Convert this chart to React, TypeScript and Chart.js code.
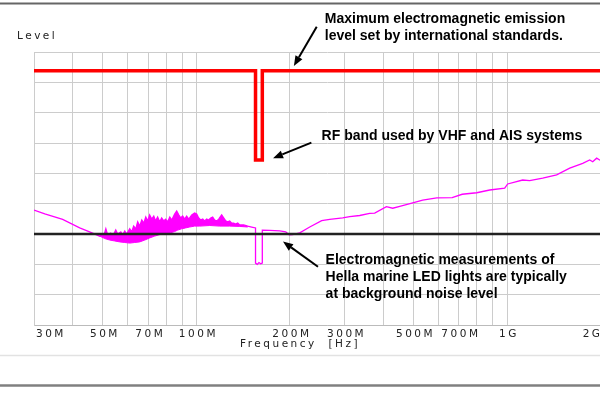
import { useEffect, useRef } from 'react';
import { Chart, registerables } from 'chart.js';

Chart.register(...registerables);

// X axis (MHz, logarithmic)
const xMin = 30;
const xMax = 2311;
const xTicks = [30, 40, 50, 60, 70, 80, 90, 100, 200, 300, 400, 500, 600, 700, 800, 900, 1000, 2000];
const xTickLabels = ['30M', '', '50M', '', '70M', '', '', '100M', '200M', '300M', '', '500M', '', '700M', '', '', '1G', '2G'];

// Y axis (level, arbitrary units, 9 grid divisions)
const yMin = 0;
const yMax = 90;
const yStep = 10;

// Emission limit (red)
const limitFreq = [30, 155, 155, 163, 163, 2311];
const limitLevel = [83.8, 83.8, 54.4, 54.4, 83.8, 83.8];

// Background noise reference (black)
const baseFreq = [30, 2311];
const baseLevel = [30, 30];

// Measured trace (magenta) – upper envelope in the noisy band
const traceFreq = [
  30, 32.5, 37.1, 42.1, 45.3, 48.8, 49.6, 50.3, 51.1, 51.8, 53.0, 53.8, 55.0, 55.8, 57.1, 57.9, 58.8, 59.6,
  61.0, 61.9, 62.8, 63.8, 64.7, 65.7, 66.7, 67.7, 68.7, 69.7, 70.7, 71.8, 72.9, 73.9, 75.0, 76.2, 77.3, 78.5,
  79.6, 80.8, 82.1, 83.3, 85.1, 86.4, 87.7, 89.0, 90.3, 91.7, 93.0, 94.5, 96.6, 98.7, 100.2, 101.7, 103.2,
  104.8, 106.3, 107.9, 109.5, 111.2, 112.8, 114.5, 116.2, 118.0, 119.8, 120.6, 122.4, 124.3, 126.1, 128.0,
  129.9, 131.8, 133.8, 135.8, 137.9, 142.0, 146.3, 150.7, 155, 155, 157, 159, 161, 163, 163, 172.2, 185.4,
  193.9, 199, 204.2, 215.1, 231.7, 253.1, 268.7, 295.8, 311.6, 335.6, 361.3, 375, 409, 428.6, 451.6, 497.2,
  535.2, 594.1, 666.0, 717.3, 798.9, 879.9, 983.1, 1005, 1123, 1183, 1303, 1445, 1592, 1753, 1846, 1888,
  1944, 1988, 2063, 2311,
];
const traceLevel = [
  37.9, 36.6, 34.8, 32.0, 30.7, 29.3, 30.0, 29.3, 31.7, 29.7, 30.3, 29.3, 31.3, 30.0, 30.7, 29.7, 31.0, 30.0,
  31.7, 30.7, 32.6, 31.7, 34.0, 32.6, 34.6, 33.6, 35.6, 34.3, 36.3, 34.9, 35.9, 34.3, 35.6, 34.0, 35.3, 34.3,
  34.9, 34.0, 35.6, 34.6, 36.6, 37.6, 36.3, 35.3, 35.9, 34.9, 35.9, 34.9, 36.3, 36.9, 36.6, 35.3, 34.6,
  34.9, 34.3, 34.9, 34.6, 35.3, 35.6, 34.6, 34.3, 34.9, 35.9, 36.3, 35.3, 34.3, 34.0, 34.3,
  33.6, 33.6, 33.3, 33.6, 33.0, 33.0, 32.6, 32.3, 32.0, 20.4, 20.0, 20.6, 20.2, 20.4, 31.3, 31.2, 31.0,
  30.7, 29.7, 29.8, 30.4, 32.3, 34.4, 34.8, 35.3, 35.7, 36.1, 36.8, 36.9, 39.0, 38.5, 39.1, 40.3,
  41.2, 41.9, 42.0, 43.1, 43.6, 44.5, 45.1, 46.5, 47.8, 47.6, 48.4, 49.5, 51.7, 53.3, 54.4, 53.8,
  55.0, 54.4, 53.7, 54.1,
];

// Lower envelope of the noisy band (filled up to the trace)
const lowerFreq = [
  48.8, 50.7, 52.6, 54.6, 56.6, 58.8, 61.0, 63.3, 65.7, 68.2, 70.7, 73.4, 76.2, 79.1, 82.1, 85.1, 87.1, 89.6,
  92.3, 95.1, 98.7, 102.5, 110.4, 118.9, 128.0, 137.9, 146.3,
];
const lowerLevel = [
  29.3, 28.5, 28.0, 27.7, 27.4, 27.2, 27.0, 27.2, 27.4, 28.0, 28.7, 29.3, 29.8, 30.0, 30.3, 30.8, 31.3, 31.7,
  32.0, 32.3, 32.6, 32.6, 32.8, 32.6, 32.6, 32.5, 32.3,
];

// Annotations: anchor in data units (MHz, level)
const notes = [
  { freq: 259, level: 100.9, lines: ['Maximum electromagnetic emission', 'level set by international standards.'] },
  { freq: 253, level: 62.3, lines: ['RF band used by VHF and AIS systems'] },
  {
    freq: 260.6,
    level: 21.4,
    lines: ['Electromagnetic measurements of', 'Hella marine LED lights are typically', 'at background noise level'],
  },
];
const arrows = [
  { fromFreq: 244, fromLevel: 98.3, toFreq: 206, toLevel: 85.4 },
  { fromFreq: 234.5, fromLevel: 60.1, toFreq: 176.5, toLevel: 55.0 },
  { fromFreq: 246.3, fromLevel: 19.2, toFreq: 190.0, toLevel: 27.5 },
];

const yTitle = 'Level';
const xTitle = 'Frequency  [Hz]';

const zip = (xs: number[], ys: number[]) => xs.map((x, i) => ({ x, y: ys[i] }));

function drawArrow(ctx: CanvasRenderingContext2D, x1: number, y1: number, x2: number, y2: number) {
  const ang = Math.atan2(y2 - y1, x2 - x1);
  const hl = 10;
  const hw = 4;
  const bx = x2 - hl * Math.cos(ang);
  const by = y2 - hl * Math.sin(ang);
  ctx.beginPath();
  ctx.moveTo(x1, y1);
  ctx.lineTo(bx, by);
  ctx.stroke();
  ctx.beginPath();
  ctx.moveTo(x2, y2);
  ctx.lineTo(bx + hw * Math.sin(ang), by - hw * Math.cos(ang));
  ctx.lineTo(bx - hw * Math.sin(ang), by + hw * Math.cos(ang));
  ctx.closePath();
  ctx.fill();
}

const SPACING = '2.5px';

const decorPlugin = {
  id: 'decor',
  beforeDraw(chart: any) {
    (chart.ctx as any).letterSpacing = SPACING;
  },
  afterDraw(chart: any) {
    const ctx = chart.ctx as CanvasRenderingContext2D;
    const xs = chart.scales.x;
    const ys = chart.scales.y;
    ctx.save();
    // frame lines
    ctx.strokeStyle = '#666';
    ctx.lineWidth = 2;
    ctx.beginPath();
    ctx.moveTo(0, 3.5);
    ctx.lineTo(640, 3.5);
    ctx.stroke();
    ctx.strokeStyle = '#e2e2e2';
    ctx.lineWidth = 1.5;
    ctx.beginPath();
    ctx.moveTo(0, 355.5);
    ctx.lineTo(640, 355.5);
    ctx.stroke();
    ctx.strokeStyle = '#808080';
    ctx.lineWidth = 2.5;
    ctx.beginPath();
    ctx.moveTo(0, 385.5);
    ctx.lineTo(640, 385.5);
    ctx.stroke();

    // axis titles
    (ctx as any).letterSpacing = SPACING;
    ctx.fillStyle = '#222';
    ctx.font = '10.5px "DejaVu Sans", sans-serif';
    ctx.textAlign = 'left';
    ctx.textBaseline = 'middle';
    ctx.fillText(yTitle, 17, 36);
    ctx.fillText(xTitle, 240, 344);

    // annotations
    (ctx as any).letterSpacing = '0px';
    ctx.fillStyle = '#000';
    ctx.font = 'bold 14px "Liberation Sans", Arial, sans-serif';
    notes.forEach((n) => {
      const px = xs.getPixelForValue(n.freq);
      const py = ys.getPixelForValue(n.level);
      n.lines.forEach((l, i) => ctx.fillText(l, px, py + i * 17));
    });
    ctx.strokeStyle = '#000';
    ctx.lineWidth = 2;
    arrows.forEach((a) => {
      drawArrow(
        ctx,
        xs.getPixelForValue(a.fromFreq),
        ys.getPixelForValue(a.fromLevel),
        xs.getPixelForValue(a.toFreq),
        ys.getPixelForValue(a.toLevel)
      );
    });
    ctx.restore();
    (ctx as any).letterSpacing = '0px';
  },
};

export default function App() {
  const ref = useRef<HTMLCanvasElement | null>(null);
  useEffect(() => {
    if (!ref.current) return;
    const chart = new Chart(ref.current, {
      type: 'line',
      data: {
        datasets: [
          {
            data: zip(baseFreq, baseLevel),
            borderColor: '#222',
            borderWidth: 2.5,
            pointRadius: 0,
            fill: false,
          },
          {
            data: zip(limitFreq, limitLevel),
            borderColor: '#ff0000',
            borderWidth: 3.5,
            borderJoinStyle: 'miter',
            pointRadius: 0,
            fill: false,
          },
          {
            data: zip(traceFreq, traceLevel),
            borderColor: '#ff00ff',
            borderWidth: 1.3,
            pointRadius: 0,
            fill: false,
          },
          {
            data: zip(lowerFreq, lowerLevel),
            borderColor: '#ff00ff',
            borderWidth: 1,
            backgroundColor: '#ff00ff',
            pointRadius: 0,
            fill: '-1',
          },
        ],
      } as any,
      options: {
        responsive: false,
        animation: false,
        events: [],
        layout: { padding: { top: 52, right: 20, bottom: 0, left: 0 } },
        plugins: {
          legend: { display: false },
          tooltip: { enabled: false },
        },
        scales: {
          x: {
            type: 'logarithmic',
            min: xMin,
            max: xMax,
            afterBuildTicks: (s: any) => {
              s.ticks = xTicks.map((v) => ({ value: v }));
            },
            afterFit: (s: any) => {
              s.height = 75;
            },
            ticks: {
              autoSkip: false,
              maxRotation: 0,
              minRotation: 0,
              align: 'inner',
              labelOffset: 2,
              padding: 3,
              color: '#222',
              font: { family: '"DejaVu Sans", sans-serif', size: 10.5 },
              callback: (v: any) => {
                const i = xTicks.indexOf(Number(v));
                return i >= 0 ? xTickLabels[i] : '';
              },
            },
            grid: { color: '#cccccc', lineWidth: 1, drawTicks: false },
            border: { color: '#bbbbbb' },
          },
          y: {
            type: 'linear',
            min: yMin,
            max: yMax,
            afterFit: (s: any) => {
              s.width = 34;
            },
            ticks: { stepSize: yStep, display: false },
            grid: { color: '#cccccc', lineWidth: 1, drawTicks: false },
            border: { color: '#cccccc' },
          },
        },
      } as any,
      plugins: [decorPlugin],
    });
    return () => chart.destroy();
  }, []);
  return (
    <div
      style={{
        position: 'absolute',
        left: 0,
        top: 0,
        width: 600,
        height: 400,
        overflow: 'hidden',
        background: '#fff',
      }}
    >
      <canvas ref={ref} width={640} height={400} style={{ display: 'block' }} />
    </div>
  );
}
